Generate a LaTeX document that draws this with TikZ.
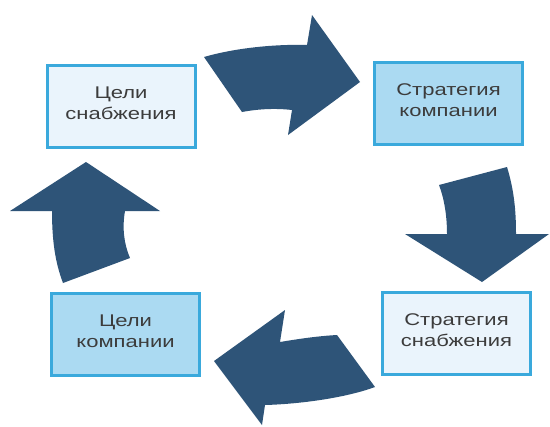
\documentclass[tikz,border=0pt]{standalone}
\usepackage{fontspec}
\setmainfont{Liberation Sans}[FakeStretch=1.3]
\definecolor{arrowblue}{HTML}{2E5478}
\definecolor{boxedge}{HTML}{3AA9DC}
\definecolor{palefill}{HTML}{EAF4FC}
\definecolor{lightfill}{HTML}{ABDAF2}
\definecolor{txtgray}{HTML}{3C3C3C}
\begin{document}
\begin{tikzpicture}[x=1bp,y=-1bp,
  boxnode/.style={draw=boxedge, line width=3bp, minimum width=148bp, minimum height=82bp, inner sep=0pt},
  boxtext/.style={align=center, text=txtgray, inner sep=0pt, font=\fontsize{17}{21}\selectfont},
  blockarrow/.style={fill=arrowblue, draw=none}]
\useasboundingbox (0,0) rectangle (550,426);
\fill[white] (0,0) rectangle (550,426);

\node[boxnode, fill=palefill]  (cs) at (121,106.5)   {};
\node[boxnode, fill=lightfill] (sk) at (448.5,103.5) {};
\node[boxnode, fill=palefill]  (ss) at (456.5,333)   {};
\node[boxnode, fill=lightfill] (ck) at (125.5,334.5) {};
\node[boxtext] (cst) at ([yshift=3bp]cs.center) {Цели\\снабжения};
\node[boxtext] (skt) at ([yshift=3bp]sk.center) {Стратегия\\компании};
\node[boxtext] (sst) at ([yshift=3bp]ss.center) {Стратегия\\снабжения};
\node[boxtext] (ckt) at ([yshift=3bp]ck.center) {Цели\\компании};

% top arrow
\fill[blockarrow] (204,57) .. controls (235,48) and (275,44) .. (307,45)
  -- (312,15) -- (360,82) -- (288,135) -- (292,110)
  .. controls (275,108) and (258,109) .. (242,112) -- cycle;
% right arrow
\fill[blockarrow] (439,185) -- (507,167) .. controls (514,190) and (516,210) .. (516,234)
  -- (549,234) -- (482,282) -- (405,234) -- (447,234)
  .. controls (447,215) and (444,198) .. (439,185) -- cycle;
% bottom arrow
\fill[blockarrow] (337,335) -- (375,387) .. controls (345,398) and (300,404) .. (265,405)
  -- (262,425) -- (214,361) -- (285,310) -- (280,342)
  .. controls (298,339) and (318,336) .. (337,335) -- cycle;
% left arrow
\fill[blockarrow] (86,162) -- (160,211) -- (125,211)
  .. controls (122,228) and (124,244) .. (130,258)
  -- (63,283) .. controls (55,262) and (52,240) .. (52,211)
  -- (10,211) -- cycle;
\end{tikzpicture}
\end{document}
